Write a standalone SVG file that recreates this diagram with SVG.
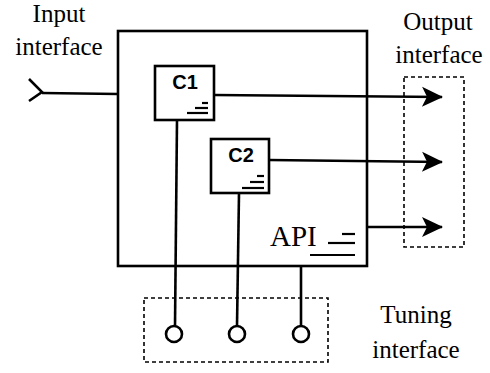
<svg xmlns="http://www.w3.org/2000/svg" width="490" height="373" viewBox="0 0 490 373">
<defs>
<style>
.ln{stroke:#000;stroke-width:2.6;fill:none}
.box{stroke:#000;stroke-width:2.6;fill:#fff}
.dash{stroke:#000;stroke-width:1.6;fill:none;stroke-dasharray:4 3}
.lbl{font-family:"Liberation Serif","Times New Roman",serif;font-size:25px;fill:#000;text-anchor:middle}
.cl{font-family:"Liberation Sans",Arial,sans-serif;font-weight:bold;font-size:20px;fill:#000;text-anchor:middle}
.st{stroke:#000;stroke-width:2.2;fill:none}
</style>
<marker id="ah" markerUnits="userSpaceOnUse" markerWidth="26" markerHeight="24" viewBox="-23 -12 26 24" refX="0" refY="0" orient="auto">
<path d="M1,0 L-20,-10 L-15,0 L-20,10 Z" fill="#000"/>
</marker>
</defs>
<rect width="490" height="373" fill="#fff"/>
<g id="connectors">
<line class="ln" x1="42" y1="93" x2="118" y2="94"/>
<polyline class="ln" points="29,79 42,92 29,101"/>
<line class="ln" x1="214" y1="95" x2="442" y2="97" marker-end="url(#ah)"/>
<line class="ln" x1="269" y1="160" x2="442" y2="162" marker-end="url(#ah)"/>
<line class="ln" x1="367" y1="227" x2="442" y2="227" marker-end="url(#ah)"/>
<line class="ln" x1="177" y1="120" x2="175" y2="326"/>
<line class="ln" x1="239" y1="193" x2="237" y2="326"/>
<line class="ln" x1="301" y1="266" x2="301" y2="326"/>
</g>
<g id="system">
<rect class="box" x="118" y="31" width="249" height="235" style="fill:none"/>
</g>
<g id="c1">
<rect class="box" x="155" y="66" width="59" height="54"/>
<text class="cl" x="185" y="89">C1</text>
<line class="st" x1="202" y1="103" x2="208" y2="103"/>
<line class="st" x1="195" y1="108" x2="208" y2="108"/>
<line class="st" x1="187" y1="113" x2="208" y2="113"/>
</g>
<g id="c2">
<rect class="box" x="211" y="139" width="58" height="54"/>
<text class="cl" x="241" y="162">C2</text>
<line class="st" x1="257" y1="176" x2="264" y2="176"/>
<line class="st" x1="250" y1="182" x2="264" y2="182"/>
<line class="st" x1="242" y1="188" x2="264" y2="188"/>
</g>
<g id="api">
<text x="270" y="246" style="font-family:'Liberation Serif','Times New Roman',serif;font-size:29px;fill:#000">API</text>
<line class="st" x1="342" y1="234" x2="355" y2="234"/>
<line class="st" x1="328" y1="243" x2="355" y2="243"/>
<line class="st" x1="310" y1="255" x2="355" y2="255"/>
</g>
<g id="input-interface">
<text class="lbl" x="59" y="22">Input</text>
<text class="lbl" x="59" y="55">interface</text>
</g>
<g id="output-interface">
<rect class="dash" x="404" y="77" width="60" height="170"/>
<text class="lbl" x="438" y="30">Output</text>
<text class="lbl" x="439" y="63">interface</text>
</g>
<g id="tuning-interface">
<rect class="dash" x="144" y="298" width="184" height="64"/>
<circle class="ln" cx="174" cy="334" r="8"/>
<circle class="ln" cx="237" cy="334" r="8"/>
<circle class="ln" cx="301" cy="334" r="8"/>
<text class="lbl" x="416" y="323">Tuning</text>
<text class="lbl" x="416" y="358">interface</text>
</g>
</svg>
